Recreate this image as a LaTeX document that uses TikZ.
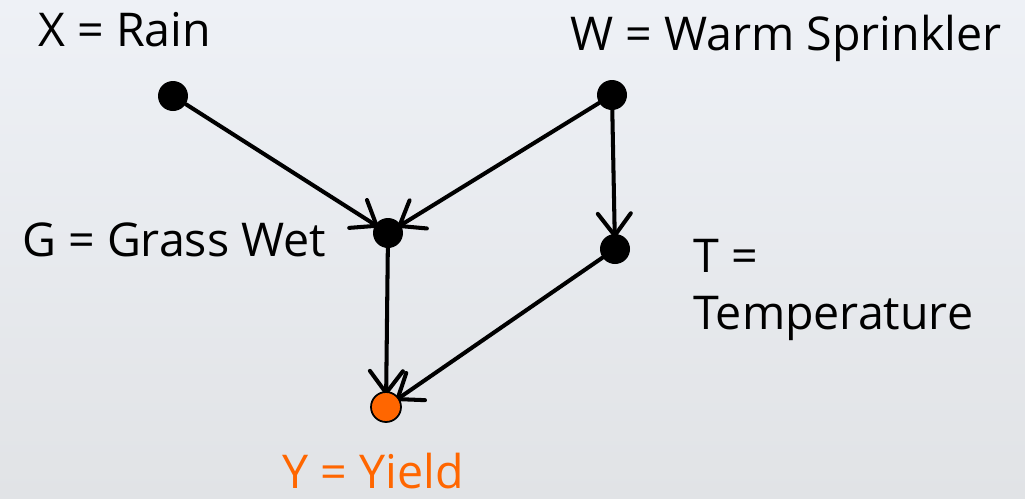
\documentclass[tikz,border=0pt]{standalone}
\usepackage{fontspec}
\setmainfont{Open Sans}
\usetikzlibrary{arrows.meta, positioning, shadings, backgrounds}
\definecolor{ink}{HTML}{000000}
\definecolor{yieldorange}{HTML}{FF6600}
\definecolor{bgtop}{HTML}{EEF1F6}
\definecolor{bgbot}{HTML}{E1E3E6}
\tikzset{
  var/.style    = {circle, fill=ink, inner sep=0pt, minimum size=0.6cm},
  target/.style = {circle, fill=yieldorange, draw=ink, line width=1pt,
                   inner sep=0pt, minimum size=0.6cm},
  lbl/.style    = {font=\fontsize{26.5}{32}\selectfont, text=ink, inner sep=0pt},
  edge/.style   = {-{Straight Barb[length=4.4mm, width=6.6mm, line cap=round]},
                   line width=2.3pt, draw=ink, line cap=round, shorten >=-3pt},
}

\begin{document}
\begin{tikzpicture}[x=0.02cm, y=-0.02cm]

% ---- variables ----
\node[var] (rain) at (173,96) {};
\node[var] (sprinkler) at (612,95) {};
\node[var] (grass) at (388,233) {};
\node[var] (temp) at (615,249) {};
\node[target] (yield) at (386,407) {};

% ---- labels ----
\node[lbl, anchor=west] (rainlbl) at (38,30) {X = Rain};
\node[lbl, anchor=west] (sprinklerlbl) at (570,38) {W = Warm Sprinkler};
\node[lbl, anchor=west] (grasslbl) at (22,240) {G = Grass Wet};
\node[lbl, anchor=west, align=left] (templbl) at (693,290) {T =\\Temperature};
\node[lbl, text=yieldorange] (yieldlbl) at (373,471) {Y = Yield};

% ---- edges (behind the dots) and background ----
\begin{scope}[on background layer]
  \shade[top color=bgtop, bottom color=bgbot] (0,0) rectangle (1025,498);
  \draw[edge] (rain) -- (grass);
  \draw[edge] (sprinkler) -- (grass);
  \draw[edge] (sprinkler) -- (temp);
  \draw[edge] (grass) -- (yield);
  \draw[edge] (temp) -- (yield);
\end{scope}
\useasboundingbox (0,0) rectangle (1025,498);

\end{tikzpicture}
\end{document}
